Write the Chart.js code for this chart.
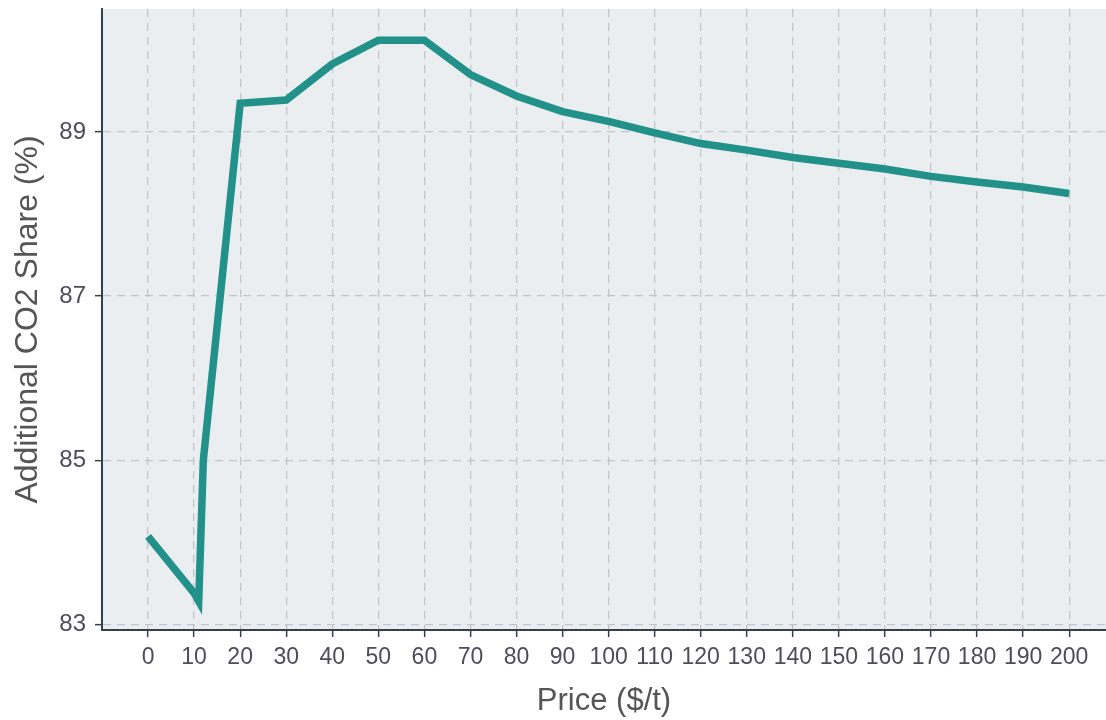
<!DOCTYPE html>
<html>
<head>
<meta charset="utf-8">
<script src="https://cdn.jsdelivr.net/npm/chart.js@4.4.1/dist/chart.umd.min.js"></script>
<style>
  body { margin: 0; background: #ffffff; }
  canvas { display: block; }
</style>
</head>
<body>
<canvas id="lineChart" width="1106" height="720"></canvas>
<script>
// price points ($/t) and the additional CO2 share (%)
const prices = [0, 10, 11, 12, 20, 30, 40, 50, 60, 70, 80, 90, 100, 110, 120, 130, 140, 150, 160, 170, 180, 190, 200];
const shares = [84.07, 83.38, 83.28, 85.0, 89.35, 89.39, 89.83, 90.12, 90.12, 89.70, 89.44, 89.25, 89.13, 88.99, 88.86, 88.78, 88.69, 88.62, 88.55, 88.46, 88.39, 88.33, 88.25];

const xTicks = [0, 10, 20, 30, 40, 50, 60, 70, 80, 90, 100, 110, 120, 130, 140, 150, 160, 170, 180, 190, 200];
const yTicks = [83, 85, 87, 89];

let points = [];
for (let i = 0; i < prices.length; i++) {
    points.push({ x: prices[i], y: shares[i] });
}

// grey panel behind the plot
const panelBg = {
    id: 'panelBg',
    beforeDraw(chart) {
        let a = chart.chartArea;
        let ctx = chart.ctx;
        ctx.save();
        ctx.fillStyle = '#ebeef0';
        ctx.fillRect(a.left, a.top, a.right - a.left, a.bottom - a.top);
        ctx.restore();
    }
};

let ctx = document.getElementById('lineChart').getContext('2d');

new Chart(ctx, {
    type: 'line',
    data: {
        datasets: [{
            data: points,
            borderColor: '#21918a',
            borderWidth: 7.5,
            pointRadius: 0,
            fill: false,
            tension: 0
        }]
    },
    options: {
        responsive: false,
        animation: false,
        layout: { padding: { top: 9, left: 0, right: 0, bottom: 0 } },
        plugins: {
            legend: { display: false },
            tooltip: { enabled: false }
        },
        scales: {
            x: {
                type: 'linear',
                min: -10,
                max: 208,
                afterBuildTicks: (scale) => { scale.ticks = xTicks.map(v => ({ value: v })); },
                afterFit: (scale) => {
                    scale.height = 90;
                    scale.paddingLeft = 0;
                    scale.paddingRight = 0;
                },
                grid: {
                    color: '#c2c5c9',
                    lineWidth: 1.3,
                    tickColor: '#34404c',
                    tickLength: 7,
                    tickWidth: 1.5
                },
                border: { display: true, color: '#34404c', width: 2, dash: [8, 6] },
                ticks: {
                    autoSkip: false,
                    maxRotation: 0,
                    padding: 7,
                    color: '#4d4d5a',
                    font: { family: "'Liberation Sans', Arial", size: 23 }
                },
                title: {
                    display: true,
                    text: 'Price ($/t)',
                    color: '#555555',
                    padding: { top: 0, bottom: 0 },
                    font: { family: "'Liberation Sans', Arial", size: 31 }
                }
            },
            y: {
                type: 'linear',
                min: 82.93,
                max: 90.5,
                afterBuildTicks: (scale) => { scale.ticks = yTicks.map(v => ({ value: v })); },
                afterFit: (scale) => {
                    scale.width = 102;
                    scale.paddingTop = 0;
                    scale.paddingBottom = 0;
                },
                grid: {
                    color: '#c2c5c9',
                    lineWidth: 1.3,
                    tickColor: '#34404c',
                    tickLength: 7,
                    tickWidth: 1.5
                },
                border: { display: true, color: '#34404c', width: 2, dash: [8, 6] },
                ticks: {
                    padding: 9,
                    color: '#4d4d5a',
                    font: { family: "'Liberation Sans', Arial", size: 24 }
                },
                title: {
                    display: true,
                    text: 'Additional CO2 Share (%)',
                    color: '#555555',
                    padding: { top: 9, bottom: 0 },
                    font: { family: "'Liberation Sans', Arial", size: 32 }
                }
            }
        }
    },
    plugins: [panelBg]
});
</script>
</body>
</html>
